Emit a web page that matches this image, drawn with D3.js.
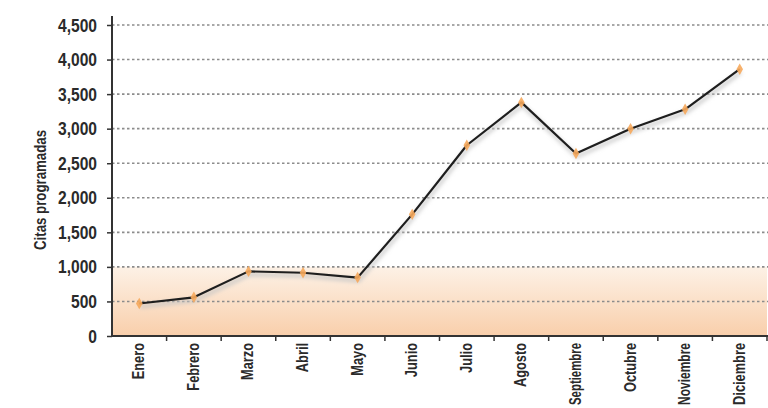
<!DOCTYPE html>
<html>
<head>
<meta charset="utf-8">
<script src="https://cdn.jsdelivr.net/npm/d3@7"></script>
<style>
  html, body { margin: 0; padding: 0; background: #ffffff; }
  svg { display: block; }
  text { font-family: "Liberation Sans Narrow", "Liberation Sans", sans-serif; fill: #2a2a2a; }
</style>
</head>
<body>
<svg id="chart" width="768" height="408"></svg>
<script>
// Monthly scheduled appointments
const months = ["Enero", "Febrero", "Marzo", "Abril", "Mayo", "Junio", "Julio",
                "Agosto", "Septiembre", "Octubre", "Noviembre", "Diciembre"];
const citas = [470, 560, 935, 915, 845, 1760, 2760, 3380, 2640, 3000, 3280, 3860];
const yTicks = [0, 500, 1000, 1500, 2000, 2500, 3000, 3500, 4000, 4500];
const bandTop = 1000;
const yTitle = "Citas programadas";

const svg = d3.select("#chart");
const margin = { left: 112, right: 1, top: 25, bottom: 72 };
const W = 768, H = 408;
const plotBottom = H - margin.bottom;

const x = d3.scaleBand().domain(months).range([margin.left, W - margin.right]);
const y = d3.scaleLinear().domain([0, 4500]).range([plotBottom, margin.top]);

// Squeeze text horizontally to get a condensed face (optionally capped in length)
function condense(sel, k, maxLen) {
  sel.each(function () {
    const len = this.getComputedTextLength();
    let target = len * k;
    if (maxLen && target > maxLen) target = maxLen;
    d3.select(this).attr("textLength", target).attr("lengthAdjust", "spacingAndGlyphs");
  });
}

const defs = svg.append("defs");
const grad = defs.append("linearGradient")
  .attr("id", "band").attr("x1", 0).attr("y1", 0).attr("x2", 0).attr("y2", 1);
grad.append("stop").attr("offset", "0%").attr("stop-color", "#fdf1e6");
grad.append("stop").attr("offset", "100%").attr("stop-color", "#f9cfab");

const shadow = defs.append("filter").attr("id", "soft")
  .attr("x", "-5%").attr("y", "-5%").attr("width", "110%").attr("height", "120%");
shadow.append("feGaussianBlur").attr("stdDeviation", 2.2);

// Shaded band below 1,000
svg.append("rect")
  .attr("x", margin.left).attr("y", y(bandTop))
  .attr("width", W - margin.right - margin.left)
  .attr("height", y(0) - y(bandTop))
  .attr("fill", "url(#band)");

// Dotted horizontal gridlines
svg.append("g").selectAll("line")
  .data(yTicks.filter(d => d > 0))
  .join("line")
  .attr("x1", margin.left).attr("x2", W)
  .attr("y1", d => y(d)).attr("y2", d => y(d))
  .attr("stroke", "#8c8c8c").attr("stroke-width", 1.6)
  .attr("stroke-dasharray", "2.5,2.5");

// Y axis
const yAxis = svg.append("g")
  .attr("transform", `translate(${margin.left},0)`)
  .call(d3.axisLeft(y).tickValues(yTicks).tickFormat(d3.format(",")).tickSize(5).tickPadding(10));
yAxis.select(".domain").attr("stroke", "#333").attr("stroke-width", 2)
  .attr("d", `M0,${y(0)}V${margin.top - 9}`);
yAxis.selectAll(".tick line").attr("stroke", "#333").attr("stroke-width", 1.5);
yAxis.selectAll(".tick text")
  .attr("font-size", 19).attr("font-weight", "bold")
  .style("font-family", "'Liberation Sans Narrow', 'Liberation Sans', sans-serif").attr("fill", "#2a2a2a")
  .call(condense, 0.82);

// X axis
const xAxis = svg.append("g")
  .attr("transform", `translate(0,${plotBottom})`)
  .call(d3.axisBottom(x).tickSize(0).tickPadding(0));
xAxis.select(".domain").attr("stroke", "#333").attr("stroke-width", 2)
  .attr("d", `M${margin.left},0H${W}`);
xAxis.selectAll(".tick text")
  .attr("font-size", 16).attr("font-weight", "bold")
  .style("font-family", "'Liberation Sans Narrow', 'Liberation Sans', sans-serif")
  .attr("text-anchor", "end")
  .attr("transform", "translate(5,7) rotate(-90)")
  .attr("dy", 0).attr("x", 0).attr("y", 0)
  .call(condense, 0.8, 62);
// Boundary ticks between months
svg.append("g").selectAll("line")
  .data(months)
  .join("line")
  .attr("x1", d => x(d) + x.step())
  .attr("x2", d => x(d) + x.step())
  .attr("y1", plotBottom).attr("y2", plotBottom + 5)
  .attr("stroke", "#333").attr("stroke-width", 1.5);

// Y axis title
svg.append("text")
  .attr("transform", `translate(46,190) rotate(-90)`)
  .attr("text-anchor", "middle")
  .attr("font-size", 17).attr("font-weight", "bold")
  .text(yTitle)
  .call(condense, 0.78);

// Line
const line = d3.line()
  .x((d, i) => x(months[i]) + x.bandwidth() / 2)
  .y(d => y(d));

svg.append("path").datum(citas)
  .attr("d", line).attr("fill", "none")
  .attr("stroke", "#c4c4c4").attr("stroke-width", 3)
  .attr("transform", "translate(1,3)")
  .attr("filter", "url(#soft)");

svg.append("path").datum(citas)
  .attr("d", line).attr("fill", "none")
  .attr("stroke", "#1e1e1e").attr("stroke-width", 2.2)
  .attr("stroke-linejoin", "round");

// Markers
svg.append("g").selectAll("path")
  .data(citas)
  .join("path")
  .attr("transform", (d, i) => `translate(${x(months[i]) + x.bandwidth() / 2},${y(d)})`)
  .attr("d", d3.symbol().type(d3.symbolDiamond).size(38))
  .attr("fill", "#f6a95c")
  .attr("opacity", 0.9);
</script>
</body>
</html>
